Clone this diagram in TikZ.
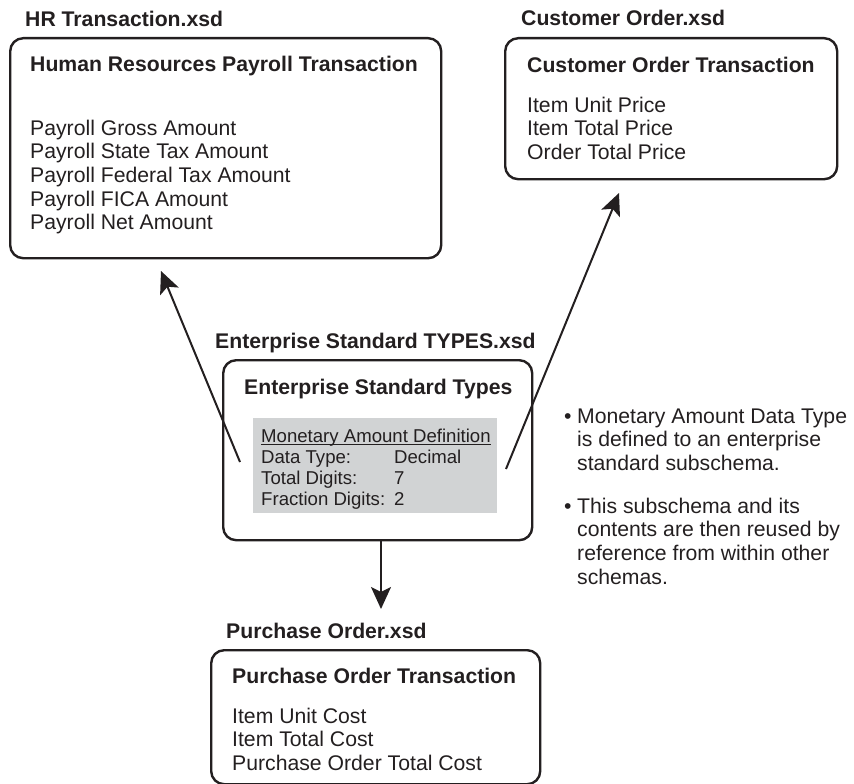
\documentclass[tikz,border=0pt]{standalone}
\usepackage{fontspec}
\setmainfont{Liberation Sans}
\usepackage{xcolor}
\usepackage{tikz}
\usetikzlibrary{arrows.meta}
\definecolor{ink}{RGB}{35,31,32}
\definecolor{panel}{RGB}{209,211,212}

\begin{document}
\begin{tikzpicture}[x = 1pt, y = -1pt,
	schema/.style = {draw = ink, line width = 2.4pt, rounded corners = 13pt, inner sep = 0pt, anchor = north west},
	label/.style = {anchor = base west, inner sep = 0pt, text = ink, font = \fontsize{21.2}{23.7}\selectfont},
	title/.style = {label, font = \fontsize{21.2}{23.7}\selectfont\bfseries},
	small/.style = {label, font = \fontsize{18.6}{21.3}\selectfont},
	link/.style = {draw = ink, line width = 2pt, -{Stealth[length = 22pt, width = 20pt, inset = 5pt]}}]
	\useasboundingbox (0, 0) rectangle (854, 784);

	% payroll schema
	\node[schema, minimum width = 431pt, minimum height = 220pt] (hr) at (9, 37) {};
	\node[title] (hrfile) at (25, 27) {HR Transaction.xsd};
	\node[title] (hrhead) at (30, 72) {Human Resources Payroll Transaction};
	\foreach \txt [count = \i] in {Payroll Gross Amount, Payroll State Tax Amount, Payroll Federal Tax Amount, Payroll FICA Amount, Payroll Net Amount}{
		\node[label] (hr\i) at (30, 111.3 + 23.7 * \i) {\txt};}

	% customer order schema
	\node[schema, minimum width = 332pt, minimum height = 141pt] (co) at (504, 37) {};
	\node[title] (cofile) at (521, 26) {Customer Order.xsd};
	\node[title] (cohead) at (527, 73) {Customer Order Transaction};
	\foreach \txt [count = \i] in {Item Unit Price, Item Total Price, Order Total Price}{
		\node[label] (co\i) at (527, 88.5 + 23.5 * \i) {\txt};}

	% shared types
	\node[schema, minimum width = 309pt, minimum height = 180pt] (ent) at (222, 359) {};
	\node[title] (entfile) at (215, 348) {Enterprise Standard TYPES.xsd};
	\node[title] (enthead) at (244, 394) {Enterprise Standard Types};
	\node[fill = panel, minimum width = 244pt, minimum height = 95pt, anchor = north west, inner sep = 0pt] (def) at (253, 418) {};
	\node[small] (defhead) at (261, 442) {Monetary Amount Definition};
	\draw[ink, line width = 1.1pt] ([yshift = -2.5pt]defhead.base west) -- ([yshift = -2.5pt]defhead.base east);
	\foreach \k/\v [count = \i] in {Data Type:/Decimal, Total Digits:/7, Fraction Digits:/2}{
		\node[small] (key\i) at (261, 441.7 + 21.3 * \i) {\k};
		\node[small] (val\i) at (394, 441.7 + 21.3 * \i) {\v};}

	% purchase order schema
	\node[schema, minimum width = 329pt, minimum height = 134pt] (po) at (210, 649) {};
	\node[title] (pofile) at (226, 638) {Purchase Order.xsd};
	\node[title] (pohead) at (232, 683) {Purchase Order Transaction};
	\foreach \txt [count = \i] in {Item Unit Cost, Item Total Cost, Purchase Order Total Cost}{
		\node[label] (po\i) at (232, 699.3 + 23.7 * \i) {\txt};}

	% notes
	\node[label] (dot1) at (564, 423) {•};
	\node[label] (dot2) at (564, 513) {•};
	\foreach \txt [count = \i] in {Monetary Amount Data Type, is defined to an enterprise, standard subschema.}{
		\node[label] (notea\i) at (577, 399.3 + 23.7 * \i) {\txt};}
	\foreach \txt [count = \i] in {This subschema and its, contents are then reused by, reference from within other, schemas.}{
		\node[label] (noteb\i) at (577, 489.3 + 23.7 * \i) {\txt};}

	% references
	\coordinate (hrtail) at (240, 462);
	\coordinate (hrtip) at (161, 271);
	\coordinate (cotail) at (506, 469);
	\coordinate (cotip) at (619, 193);
	\coordinate (potip) at (381, 609);
	\draw[link] (hrtail) -- (hrtip);
	\draw[link] (cotail) -- (cotip);
	\draw[link] (ent.south -| potip) -- (potip);
\end{tikzpicture}
\end{document}
